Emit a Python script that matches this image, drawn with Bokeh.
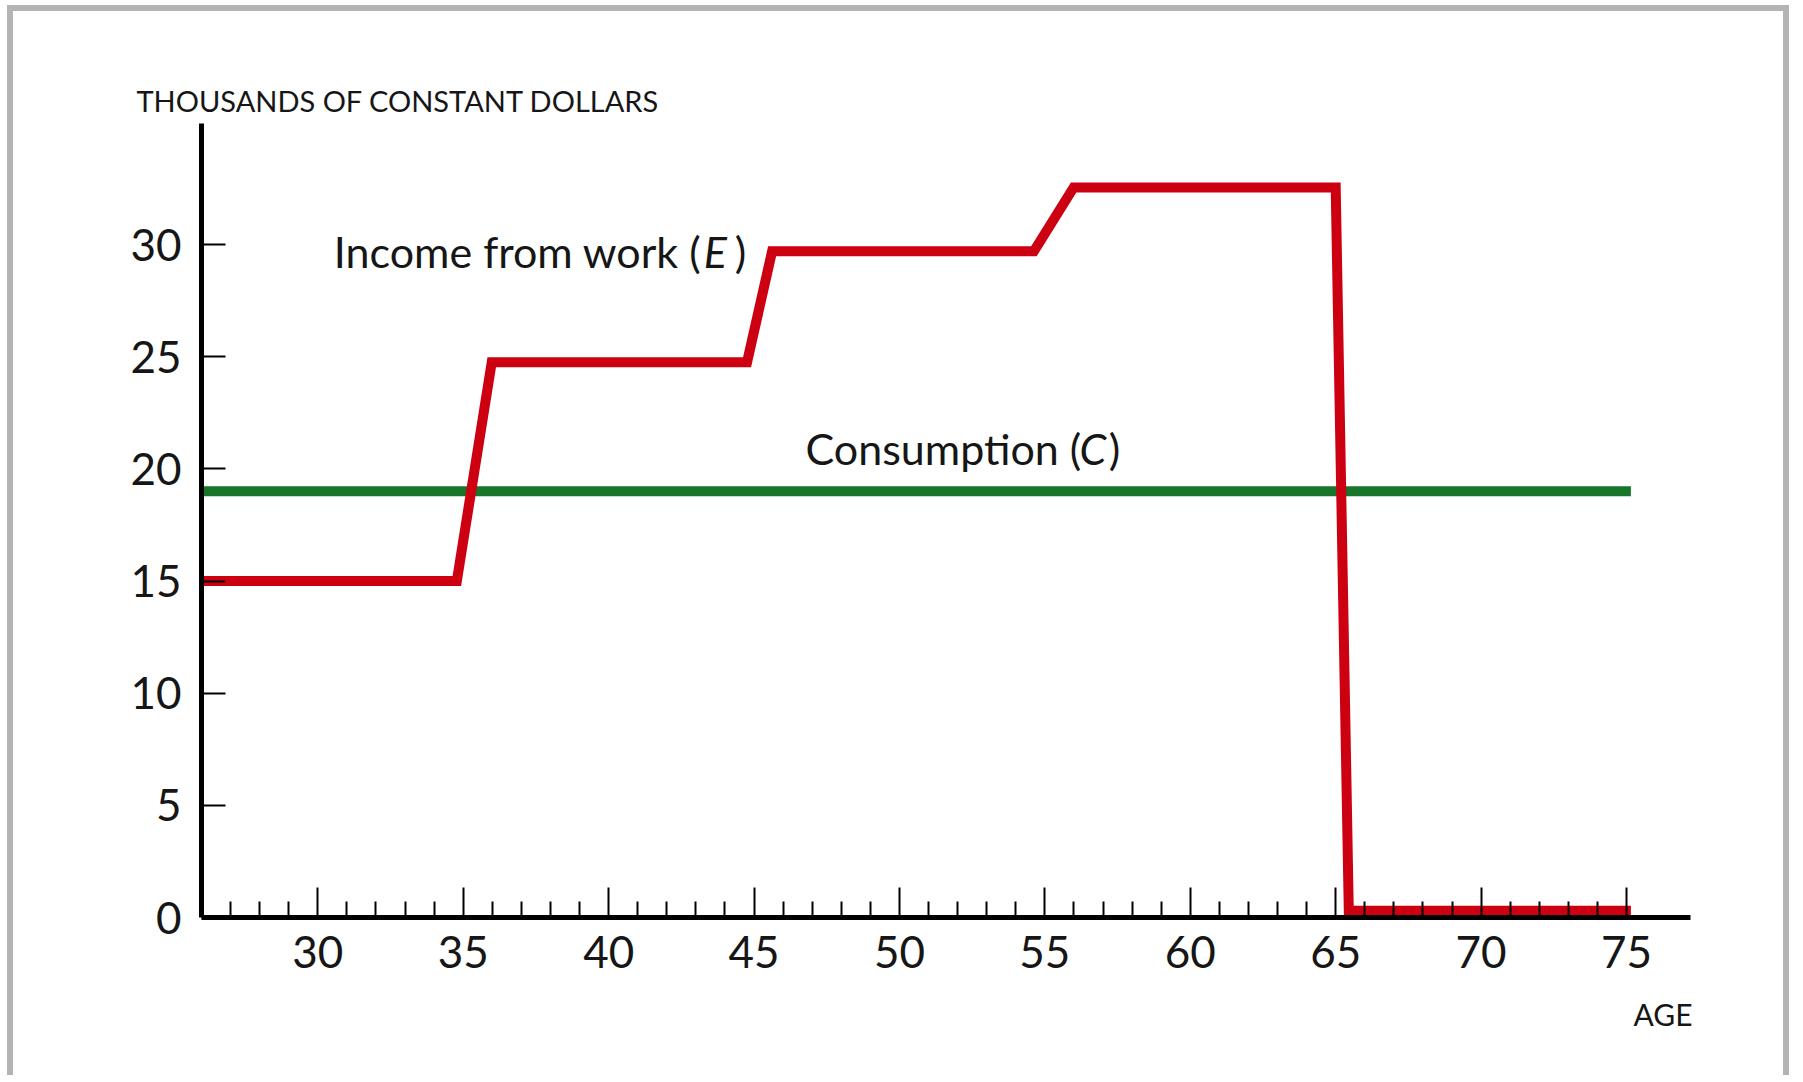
from bokeh.plotting import figure
from bokeh.models import Range1d, FixedTicker, Label, Title
from bokeh.embed import file_html
from bokeh.resources import INLINE

# ---- data ----
age = [26, 34.78, 35.98, 44.76, 45.62, 54.62, 55.99, 65.0, 65.45, 75.15]
income = [15.0, 15.0, 24.76, 24.76, 29.7, 29.7, 32.55, 32.55, 0.3, 0.3]
cons_age = [26, 75.15]
consumption = [19.0, 19.0]

x_major_ticks = [30, 35, 40, 45, 50, 55, 60, 65, 70, 75]
x_minor_ticks = [a for a in range(27, 76) if a % 5 != 0]
y_major_ticks = [0, 5, 10, 15, 20, 25, 30]

y_title = "THOUSANDS OF CONSTANT DOLLARS"
x_title = "AGE"

FONT = "Lato"
RED = "#cc0011"
GREEN = "#18762b"
INK = "#161616"

p = figure(width=1782, height=1070, output_backend="svg", toolbar_location=None,
           x_range=Range1d(26, 77.2), y_range=Range1d(0, 35.4),
           min_border_left=188, min_border_right=105, min_border_top=112,
           min_border_bottom=164)
p.styles = {"margin-left": "7px", "margin-top": "5px",
            "border-top": "6px solid #b4b4b4", "border-left": "6px solid #b4b4b4",
            "border-right": "6px solid #b4b4b4"}
p.background_fill_color = "white"
p.border_fill_color = "white"
p.outline_line_color = None
p.grid.visible = False

# axes
xa = p.xaxis[0]
xa.ticker = FixedTicker(ticks=x_major_ticks, minor_ticks=x_minor_ticks)
xa.axis_line_width = 5
xa.axis_line_color = "black"
xa.major_tick_in = 30
xa.major_tick_out = 0
xa.minor_tick_in = 16
xa.minor_tick_out = 0
xa.major_tick_line_width = 2
xa.minor_tick_line_width = 2
xa.major_tick_line_color = "black"
xa.minor_tick_line_color = "black"
xa.major_label_text_font = FONT
xa.major_label_text_font_size = "44px"
xa.major_label_text_color = INK
xa.major_label_standoff = 18

ya = p.yaxis[0]
ya.ticker = FixedTicker(ticks=y_major_ticks, minor_ticks=[])
ya.axis_line_width = 5
ya.axis_line_color = "black"
ya.major_tick_in = 24
ya.major_tick_out = 0
ya.minor_tick_in = 0
ya.minor_tick_out = 0
ya.major_tick_line_width = 2
ya.major_tick_line_color = "black"
ya.major_label_text_font = FONT
ya.major_label_text_font_size = "44px"
ya.major_label_text_color = INK
ya.major_label_standoff = 20

# lines
p.line(cons_age, consumption, line_color=GREEN, line_width=10, line_cap="butt")
p.line(age, income, line_color=RED, line_width=10, line_join="miter", line_cap="butt")

def lab(x, y, text, size="43px", style="normal", align="left"):
    p.add_layout(Label(x=x, y=y, text=text, text_font=FONT, text_font_size=size,
                       text_font_style=style, text_color=INK, text_align=align,
                       text_baseline="alphabetic"))

# annotations
lab(30.55, 29.71, "Income from work (")
lab(43.27, 29.71, "E", style="italic")
lab(44.34, 29.71, ")")
lab(46.77, 20.93, "Consumption (")
lab(56.19, 20.93, "C", style="italic")
lab(57.20, 20.93, ")")

# axis titles
p.add_layout(Title(text=y_title, align="left", offset=-65, standoff=11,
                   text_font=FONT, text_font_size="29px", text_font_style="normal",
                   text_color=INK), "above")
p.add_layout(Title(text=x_title, align="right", offset=-2, standoff=46,
                   text_font=FONT, text_font_size="30px", text_font_style="normal",
                   text_color=INK), "below")

open("out.html", "w").write(file_html(p, INLINE))
